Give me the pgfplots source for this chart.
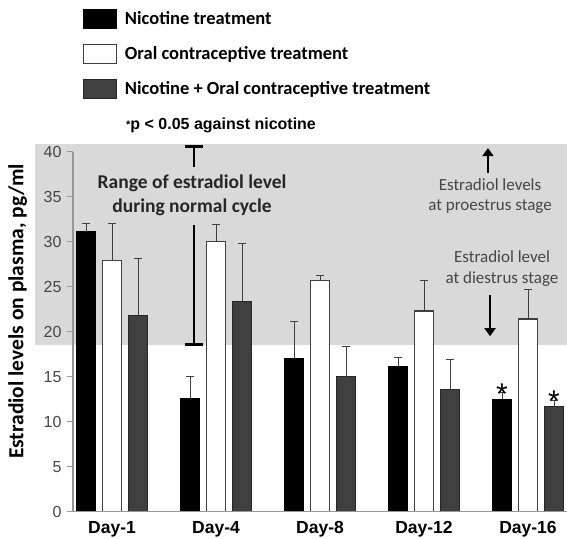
\documentclass[border=0pt]{standalone}
\usepackage{pgfplots}
\pgfplotsset{compat=1.18}
\usepackage{fontspec}
\setmainfont{Carlito}
\newfontfamily\arial{Liberation Sans}
\usetikzlibrary{arrows.meta}
\definecolor{band}{RGB}{217,217,217}
\definecolor{dgray}{RGB}{64,64,64}
\definecolor{txtgray}{RGB}{70,70,70}
\definecolor{axgray}{RGB}{150,150,150}
\pgfplotsset{
  mylegend/.style={legend image code/.code={\draw[##1, line width=1pt] (0pt,-9.5pt) rectangle (33pt,9.5pt);}},
  myerr/.style={error bars/.cd, y dir=plus, y explicit,
     error bar style={dgray, line width=1pt},
     error mark options={rotate=90, dgray, line width=1pt, mark size=4pt}},
}
\begin{document}
\begin{tikzpicture}
\begin{axis}[
  scale only axis, width=494pt, height=360pt,
  xmin=-0.375, xmax=4.375, ymin=0, ymax=40,
  clip=false, axis on top,
  axis x line*=bottom, axis y line*=left,
  axis line style={axgray, line width=1.2pt},
  ytick={0,5,...,40},
  xtick={0,1,2,3,4},
  xticklabels={Day-1,Day-4,Day-8,Day-12,Day-16},
  xtick style={draw=none},
  ytick style={axgray, line width=1pt},
  tick align=outside, major tick length=6pt,
  yticklabel style={font=\arial\fontsize{16}{16}\selectfont, text=txtgray, xshift=-2pt},
  xticklabel style={font=\arial\bfseries\fontsize{17.5}{17.5}\selectfont, text=black},
  /pgf/number format/assume math mode=true,
  ylabel={Estradiol levels on plasma, pg/ml},
  every axis y label/.style={at={(rel axis cs:-0.1123,0.556)}, rotate=90, anchor=center, font=\bfseries\fontsize{21.5}{21.5}\selectfont},
  ybar, bar width=19pt,
  legend style={at={(rel axis cs:0.0202,1.3964)}, anchor=north west, draw=none, fill=none,
     inner sep=0pt, outer sep=0pt, row sep=15pt,
     font=\bfseries\fontsize{18.5}{18.5}\selectfont,
     /tikz/every odd column/.append style={column sep=6pt}},
  legend cell align=left,
]
\fill[band] (axis cs:-0.74,18.5) rectangle (axis cs:4.375,40.8);

\addplot[fill=black, draw=black, line width=0.8pt, bar shift=-26pt, mylegend, myerr]
  coordinates {(0,31.1) +- (0,0.9) (1,12.6) +- (0,2.4) (2,17.0) +- (0,4.1) (3,16.1) +- (0,1.0) (4,12.5) +- (0,0.7)};
\addplot[fill=white, draw=dgray, line width=1.2pt, bar shift=0pt, mylegend, myerr]
  coordinates {(0,27.9) +- (0,4.1) (1,30.0) +- (0,1.9) (2,25.7) +- (0,0.5) (3,22.3) +- (0,3.4) (4,21.4) +- (0,3.3)};
\addplot[fill=dgray, draw=black!85, line width=1pt, bar shift=26pt, mylegend, myerr]
  coordinates {(0,21.8) +- (0,6.3) (1,23.4) +- (0,6.4) (2,15.0) +- (0,3.3) (3,13.6) +- (0,3.3) (4,11.7) +- (0,0.6)};
\legend{Nicotine treatment, Oral contraceptive treatment, Nicotine + Oral contraceptive treatment}

% range of normal cycle
\draw[line width=2.5pt] (axis cs:0.788,18.55) -- (axis cs:0.788,31.9);
\draw[line width=2.5pt] ([xshift=-9pt]axis cs:0.788,18.55) -- ([xshift=9pt]axis cs:0.788,18.55);
\draw[line width=2.5pt] (axis cs:0.788,38.3) -- (axis cs:0.788,40.6);
\draw[line width=2.5pt] ([xshift=-9pt]axis cs:0.788,40.6) -- ([xshift=9pt]axis cs:0.788,40.6);
\node[align=center, font=\bfseries\fontsize{19.5}{24}\selectfont, text=black!85] at (axis cs:0.77,35.2) {Range of estradiol level\\during normal cycle};

% stage annotations
\node[align=center, font=\fontsize{17}{20}\selectfont, text=txtgray] at (axis cs:3.635,35.1) {Estradiol levels\\at proestrus stage};
\node[align=center, font=\fontsize{17}{21}\selectfont, text=txtgray] at (axis cs:3.75,27.0) {Estradiol level\\at diestrus stage};
\draw[line width=2.5pt, -{Triangle[width=11pt,length=8pt]}] (axis cs:3.615,37.6) -- (axis cs:3.615,40.4);
\draw[line width=2.5pt, -{Triangle[width=11pt,length=8pt]}] (axis cs:3.635,24.1) -- (axis cs:3.635,19.5);

% significance stars
\node[anchor=base, font=\arial\fontsize{30}{30}\selectfont, inner sep=0pt] at ([xshift=-26pt]axis cs:4,11.9) {*};
\node[anchor=base, font=\arial\fontsize{30}{30}\selectfont, inner sep=0pt] at ([xshift=26pt]axis cs:4,11.1) {*};

% note
\node[anchor=west, font=\arial\bfseries\fontsize{16}{16}\selectfont, inner sep=0pt] at (rel axis cs:0.1073,1.0742) {{\fontsize{11}{11}\selectfont\raisebox{1pt}{*}}p < 0.05 against nicotine};

\coordinate (bbsw) at (rel axis cs:-0.1478,-0.0758);
\coordinate (bbne) at (rel axis cs:1,1.4214);
\end{axis}
\pgfresetboundingbox
\useasboundingbox (bbsw) rectangle (bbne);
\end{tikzpicture}
\end{document}
